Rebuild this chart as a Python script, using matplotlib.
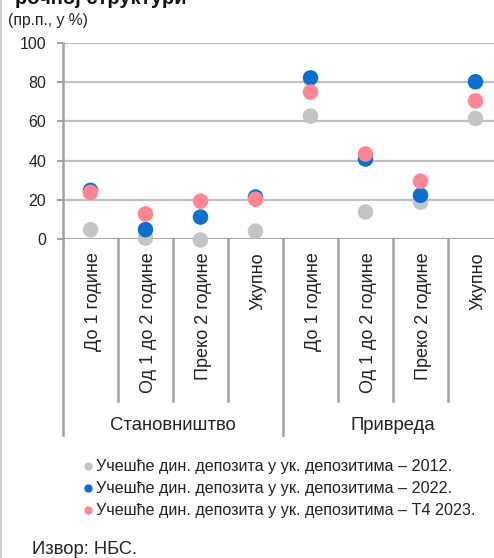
import matplotlib.pyplot as plt
import matplotlib.transforms as mtransforms
from matplotlib.lines import Line2D

plt.rcParams['font.family'] = ['Liberation Sans', 'DejaVu Sans']

categories = ['До 1 године', 'Од 1 до 2 године', 'Преко 2 године', 'Укупно',
              'До 1 године', 'Од 1 до 2 године', 'Преко 2 године', 'Укупно']
groups = ['Становништво', 'Привреда']
share_2012 = [4.7, 0.5, -0.5, 4.0, 62.7, 13.8, 18.8, 61.5]
share_2022 = [24.8, 4.8, 11.2, 21.4, 82.2, 40.8, 22.3, 80.2]
share_2023 = [23.8, 12.8, 19.3, 20.3, 75.0, 43.4, 29.5, 70.5]
series_labels = ['Учешће дин. депозита у ук. депозитима – 2012.',
                 'Учешће дин. депозита у ук. депозитима – 2022.',
                 'Учешће дин. депозита у ук. депозитима – Т4 2023.']
colors = ['#C4C4C4', '#0A6FCF', '#FF8593']
yticks = [0, 20, 40, 60, 80, 100]

W, H = 494, 558


def fy(py):
    return 1 - py / H


fig = plt.figure(figsize=(W / 100, H / 100), dpi=100)
ax = fig.add_axes([63 / W, fy(239), (503 - 63) / W, (239 - 43) / H])

x = list(range(len(categories)))
for vals, c in zip([share_2012, share_2022, share_2023], colors):
    ax.scatter(x, vals, s=125, color=c, edgecolors='none', zorder=3, clip_on=False)

ax.set_xlim(-0.5, len(categories) - 0.5)
ax.set_ylim(0, 100)
ax.set_yticks(yticks)
ax.set_yticklabels([str(v) for v in yticks], fontsize=11.5, color='#222222')
ax.set_xticks([])
ax.yaxis.grid(True, color='#C0C0C0', linewidth=1.6)
ax.set_axisbelow(True)
for s in ['top', 'right', 'bottom']:
    ax.spines[s].set_visible(False)
ax.spines['left'].set_color('#A0A0A0')
ax.spines['left'].set_linewidth(1.8)
ax.tick_params(axis='y', length=4, color='#A0A0A0', width=1.5, pad=8)

# category separators under the axis
trans = mtransforms.blended_transform_factory(ax.transData, fig.transFigure)
for i in range(len(categories) + 1):
    xs = i - 0.5
    bottom = fy(435) if i % 4 == 0 else fy(401)
    ax.add_line(Line2D([xs, xs], [fy(239), bottom], transform=trans,
                       color='#A0A0A0', linewidth=1.8, clip_on=False))
ax.axhline(0, color='#A0A0A0', linewidth=1.8, zorder=2)

for i, lab in enumerate(categories):
    ax.text(i + 0.05, fy(252), lab, transform=trans, rotation=90,
            ha='center', va='top', fontsize=13, color='#222222')

for g, lab in enumerate(groups):
    ax.text(g * 4 + 1.5, fy(425), lab, transform=trans, ha='center',
            va='center', fontsize=13.3, color='#222222')

# legend
for j, (lab, c) in enumerate(zip(series_labels, colors)):
    yy = fy(466 + j * 22)
    fig.add_artist(Line2D([88 / W], [yy], marker='o', markersize=5,
                          color=c, linestyle='none'))
    fig.text(96 / W, yy, lab, ha='left', va='center', fontsize=11.6,
             color='#222222')

fig.text(8 / W, fy(20), '(пр.п., у %)', ha='left', va='center',
         fontsize=11.3, color='#222222')
fig.text(15 / W, fy(4), 'рочној структури', ha='left', va='baseline',
         fontsize=14.5, fontweight='bold', color='#111111')
fig.text(32 / W, fy(550), 'Извор: НБС.', ha='left', va='center',
         fontsize=13.2, color='#222222')

fig.add_artist(Line2D([1 / W, 1 / W], [0, 1], color='#D0D0D0', linewidth=1.5))

fig.savefig('out.png', dpi=100)
